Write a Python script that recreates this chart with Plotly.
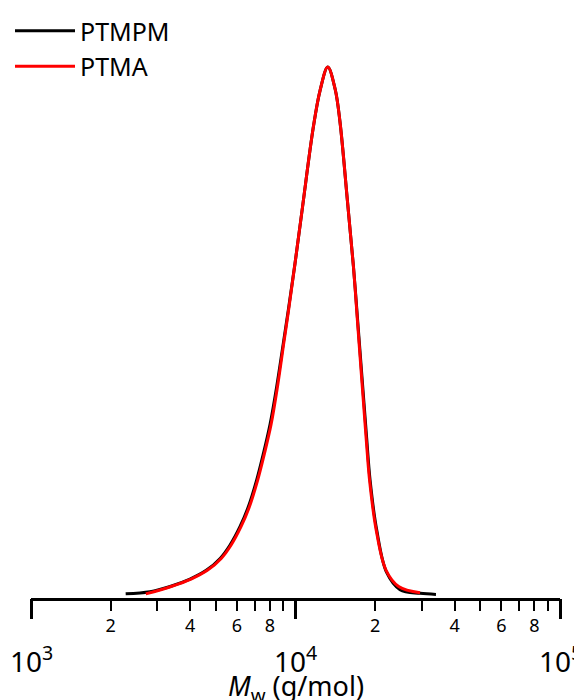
import plotly.graph_objects as go

# Molecular weight (g/mol) and normalized signal
ptmpm_mw = [2280, 2818, 3357, 3990, 4613, 5188, 5649, 6166, 6637, 7129, 7551, 8017,
            8492, 8995, 9397, 9954, 10641, 11668, 12388, 13243, 14125, 14723, 15704,
            16558, 17258, 18578, 19143, 20277, 22131, 24831, 29580, 33963]
ptmpm_w = [0.004, 0.008, 0.018, 0.032, 0.049, 0.071, 0.096, 0.131, 0.169, 0.219, 0.268,
           0.325, 0.396, 0.478, 0.541, 0.628, 0.737, 0.885, 0.956, 1.0, 0.958, 0.897,
           0.749, 0.623, 0.508, 0.299, 0.219, 0.125, 0.044, 0.012, 0.005, 0.003]

ptma_mw = [2716, 3388, 4027, 4656, 5236, 5702, 6223, 6699, 7195, 7621, 8091, 8550,
           9030, 9420, 9954, 10641, 11668, 12388, 13243, 14125, 14723, 15704, 16558,
           17219, 18493, 19055, 20184, 21979, 24547, 29580]
ptma_w = [0.004, 0.018, 0.032, 0.049, 0.071, 0.096, 0.131, 0.169, 0.219, 0.268, 0.325,
          0.396, 0.478, 0.541, 0.628, 0.737, 0.885, 0.956, 1.0, 0.958, 0.897, 0.749,
          0.623, 0.508, 0.299, 0.219, 0.125, 0.049, 0.018, 0.006]

labeled_vals = [m * 10 ** e for e in (3, 4) for m in (2, 4, 6, 8)]
labeled_text = [str(m) for e in (3, 4) for m in (2, 4, 6, 8)]
unlabeled_vals = [m * 10 ** e for e in (3, 4) for m in (3, 5, 7, 9)]
major_vals = [1e3, 1e4, 1e5]
major_exp = [3, 4, 5]

FONT = "Noto Sans"
# the page body adds an 8px margin, so the figure is drawn 8px smaller
W, H = 574, 692
X0, X1 = 23, 552      # plot area, pixels inside the figure
Y0, Y1 = 47, 590

xdom = [X0 / W, X1 / W]
ydom = [1 - Y1 / H, 1 - Y0 / H]

fig = go.Figure()
fig.add_trace(go.Scatter(x=ptmpm_mw, y=ptmpm_w, mode="lines", name="PTMPM",
                         line=dict(color="black", width=3, shape="spline", smoothing=1)))
fig.add_trace(go.Scatter(x=ptma_mw, y=ptma_w, mode="lines", name="PTMA",
                         line=dict(color="#ff0000", width=3, shape="spline", smoothing=1)))
# empty trace so that the overlaid decade-tick axis is drawn
fig.add_trace(go.Scatter(x=[], y=[], xaxis="x2", yaxis="y", showlegend=False,
                         hoverinfo="skip", mode="lines"))

fig.update_layout(
    width=W, height=H,
    margin=dict(l=0, r=0, t=0, b=0),
    paper_bgcolor="white", plot_bgcolor="white",
    font=dict(family=FONT, color="black"),
    showlegend=True,
    legend=dict(x=2 / W, y=1.0, xanchor="left", yanchor="top",
                font=dict(size=25, family=FONT), itemwidth=60, tracegroupgap=0,
                bgcolor="rgba(0,0,0,0)"),
    xaxis=dict(type="log", range=[3, 5], domain=xdom, showgrid=False, zeroline=False,
               showline=True, linecolor="black", linewidth=2.5,
               tickmode="array", tickvals=labeled_vals, ticktext=labeled_text,
               ticks="outside", ticklen=10, tickwidth=2, tickcolor="black",
               tickfont=dict(size=18, family=FONT),
               minor=dict(tickmode="array", tickvals=unlabeled_vals, ticks="outside",
                          ticklen=10, tickwidth=2, tickcolor="black", showgrid=False)),
    xaxis2=dict(type="log", range=[3, 5], domain=xdom, overlaying="x", anchor="y",
                side="bottom", showgrid=False, zeroline=False, showline=False,
                tickmode="array", tickvals=major_vals, showticklabels=False,
                ticks="outside", ticklen=20, tickwidth=2.5, tickcolor="black"),
    yaxis=dict(range=[-0.0038, 1.0227], domain=ydom, visible=False,
               showgrid=False, zeroline=False),
)

for e in major_exp:
    fig.add_annotation(x=e, y=0, xref="x", yref="y domain", yanchor="middle",
                       yshift=-61, showarrow=False,
                       text=f"10<sup>{e}</sup>", font=dict(size=28, family=FONT))

fig.add_annotation(x=0.5, y=0, xref="x domain", yref="y domain", yanchor="middle",
                   yshift=-89, showarrow=False,
                   text="<i>M</i><sub>w</sub> (g/mol)", font=dict(size=27, family=FONT))

fig.write_html("out.html")
